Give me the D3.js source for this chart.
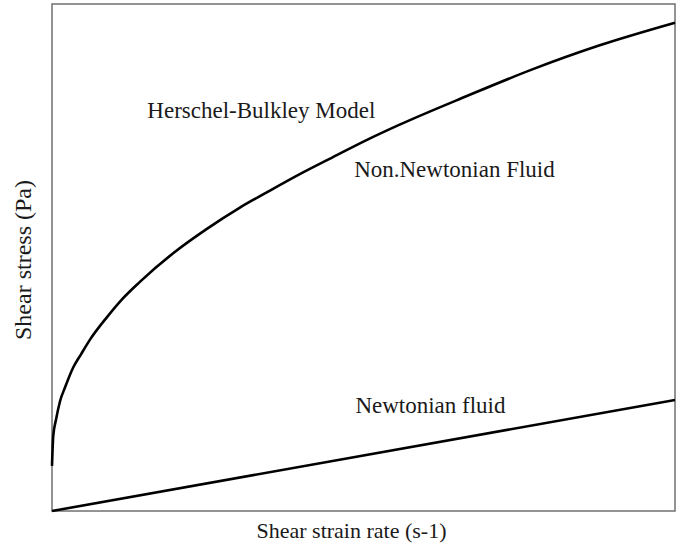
<!DOCTYPE html>
<html>
<head>
<meta charset="utf-8">
<script src="https://cdn.jsdelivr.net/npm/d3@7"></script>
<style>
  body { margin: 0; background: #fff; }
  text { font-family: "Liberation Serif", "Times New Roman", serif; fill: #1a1a1a; }
</style>
</head>
<body>
<div id="plot"></div>
<script>
// Herschel-Bulkley curve (strain rate, stress; arbitrary 0-10 units)
var hbRate   = [0, 0.02, 0.064, 0.13, 0.21, 0.34, 0.47, 0.61, 0.88, 1.12, 1.41, 1.94, 2.48, 3.01, 3.44, 3.97, 4.51, 5.04, 5.58, 6.65, 7.71, 8.78, 10];
var hbStress = [0.89, 1.48, 1.80, 2.17, 2.44, 2.83, 3.10, 3.38, 3.82, 4.17, 4.52, 5.08, 5.56, 5.98, 6.28, 6.64, 6.98, 7.31, 7.62, 8.18, 8.71, 9.18, 9.63];

// Newtonian fluid line
var newtRate   = [0, 10];
var newtStress = [0, 2.19];

var xLabel = "Shear strain rate (s-1)";
var yLabel = "Shear stress (Pa)";
var notes = ["Herschel-Bulkley Model", "Non.Newtonian Fluid", "Newtonian fluid"];

// Set the dimensions and margins of the graph
var margin = {top: 4, right: 10, bottom: 42, left: 52},
	width = 685 - margin.left - margin.right,
	height = 553 - margin.top - margin.bottom;

var svg = d3.select("#plot")
	.append("svg")
	.attr("width", 685)
	.attr("height", 553)
	.append("g")
	.attr("transform", "translate(" + margin.left + "," + margin.top + ")");

var x = d3.scaleLinear().domain([0, 10]).range([0, width]);
var y = d3.scaleLinear().domain([0, 10]).range([height, 0]);

// Frame
svg.append("rect")
	.attr("x", 0)
	.attr("y", 0)
	.attr("width", width)
	.attr("height", height)
	.style("fill", "none")
	.style("stroke", "#707070")
	.style("stroke-width", 1.5);

var line = d3.line()
	.x(function(d){ return x(d[0]); })
	.y(function(d){ return y(d[1]); })
	.curve(d3.curveMonotoneX);

var hb = hbRate.map(function(r, i){ return [r, hbStress[i]]; });
var newt = newtRate.map(function(r, i){ return [r, newtStress[i]]; });

[hb, newt].forEach(function(series){
	svg.append("path")
		.datum(series)
		.attr("d", line)
		.style("fill", "none")
		.style("stroke", "#000")
		.style("stroke-width", 2.6);
});

// Annotations
var notePos = [[1.53, 7.75], [4.85, 6.58], [4.87, 1.94]];
svg.selectAll(".note")
	.data(notes)
	.enter().append("text")
	.attr("class", "note")
	.attr("x", function(d, i){ return x(notePos[i][0]); })
	.attr("y", function(d, i){ return y(notePos[i][1]); })
	.style("font-size", "23px")
	.text(function(d){ return d; });

// Axis titles
svg.append("text")
	.attr("x", width / 2 - 12)
	.attr("y", height + 27)
	.style("text-anchor", "middle")
	.style("font-size", "22px")
	.text(xLabel);

svg.append("text")
	.attr("transform", "rotate(-90)")
	.attr("x", 0 - 256)
	.attr("y", -21)
	.style("text-anchor", "middle")
	.style("font-size", "24px")
	.text(yLabel);
</script>
</body>
</html>
